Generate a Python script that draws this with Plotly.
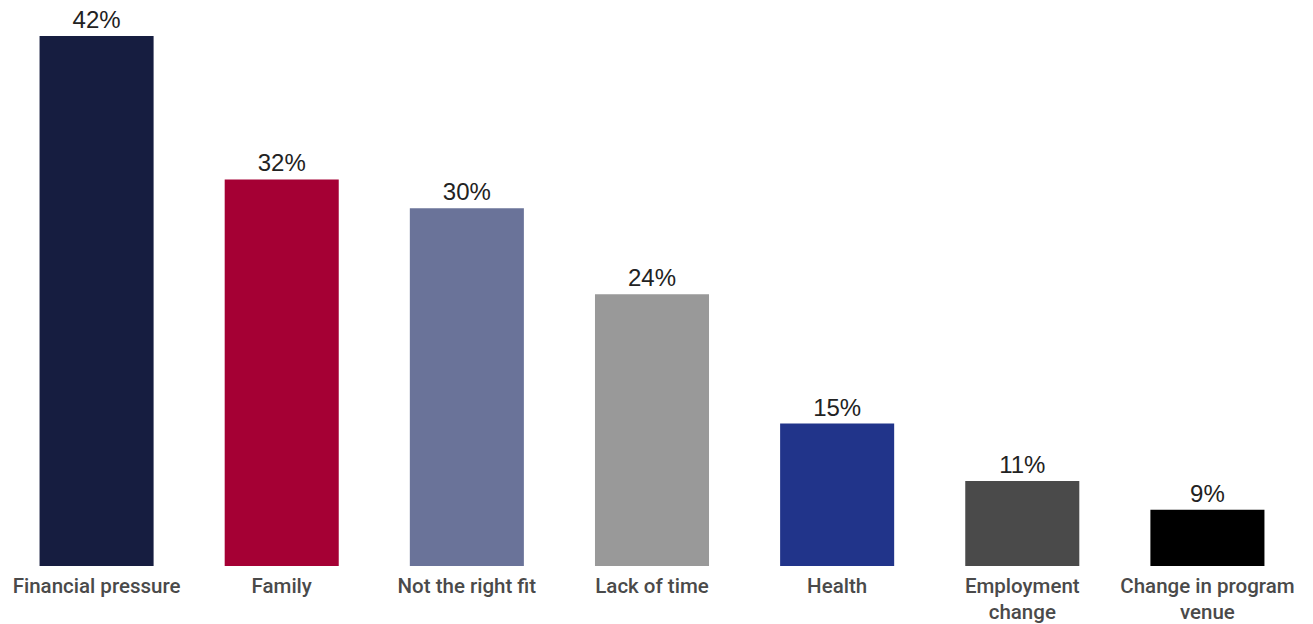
import plotly.graph_objects as go

categories = ["Financial pressure", "Family", "Not the right fit", "Lack of time",
              "Health", "Employment<br>change", "Change in program<br>venue"]
values = [42, 32, 30, 24, 15, 11, 9]
labels = ["42%", "32%", "30%", "24%", "15%", "11%", "9%"]
colors = ["#161d40", "#a50034", "#6a7399", "#999999", "#21348a", "#4a4a4a", "#000000"]

fig = go.Figure(go.Bar(
    x=categories, y=values, text=labels, textposition="outside",
    marker=dict(color=colors, line=dict(width=0)),
    textfont=dict(family="Arial, Liberation Sans", size=24, color="#222222"),
    cliponaxis=False,
))
fig.update_layout(
    width=1313, height=624,
    margin=dict(l=4, r=13, t=0, b=58),
    paper_bgcolor="white", plot_bgcolor="white",
    bargap=0.384,
    showlegend=False,
    xaxis=dict(showline=False, ticks="", ticklabelstandoff=5,
               tickfont=dict(family="Roboto", size=20.5, color="#4a4a4a", weight=500)),
    yaxis=dict(range=[5.08, 44.5], visible=False),
)
fig.write_html("out.html")
